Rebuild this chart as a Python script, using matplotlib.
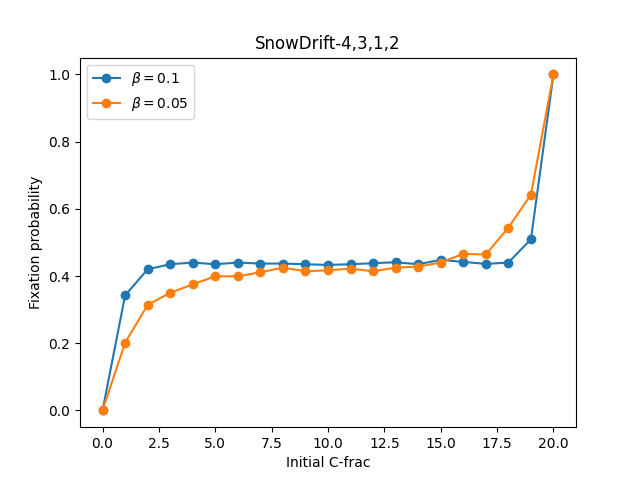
import matplotlib
matplotlib.use('Agg')
from matplotlib import pyplot as plt

# initial number of C players
c_frac = list(range(21))

# fixation probabilities
fix_b01 = [0.0, 0.342, 0.420, 0.435, 0.440, 0.435, 0.440, 0.437, 0.437, 0.435, 0.433,
           0.435, 0.438, 0.441, 0.435, 0.448, 0.442, 0.436, 0.440, 0.509, 1.0]
fix_b005 = [0.0, 0.201, 0.314, 0.350, 0.375, 0.399, 0.399, 0.411, 0.425, 0.414, 0.417,
            0.422, 0.414, 0.425, 0.428, 0.440, 0.466, 0.464, 0.544, 0.642, 1.0]

fig, ax = plt.subplots(figsize=(6.4, 4.8), dpi=100)
ax.plot(c_frac, fix_b01, marker='o', label=r'$\beta = 0.1$')
ax.plot(c_frac, fix_b005, marker='o', label=r'$\beta = 0.05$')
ax.set_title('SnowDrift-4,3,1,2')
ax.set_xlabel('Initial C-frac')
ax.set_ylabel('Fixation probability')
ax.legend(loc='upper left')
plt.savefig('out.png')
